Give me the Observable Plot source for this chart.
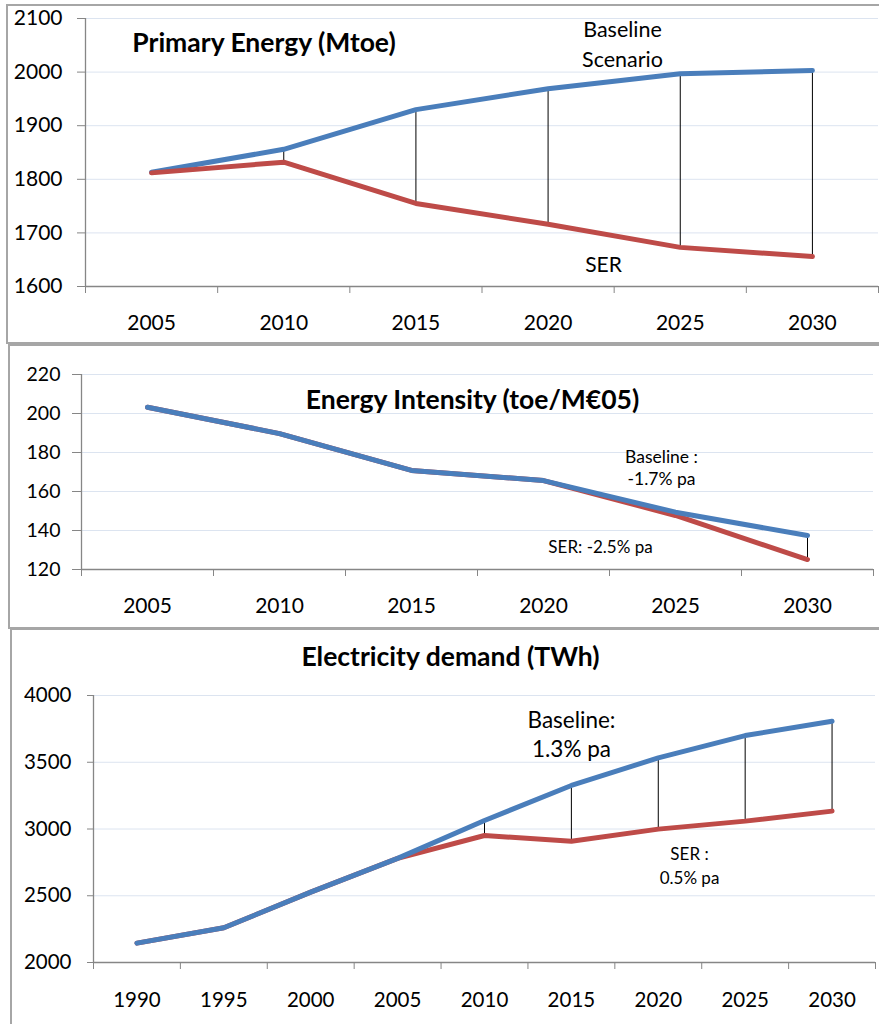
<!DOCTYPE html>
<html><head><meta charset="utf-8">
<script src="https://cdn.jsdelivr.net/npm/d3@7"></script>
<script src="https://cdn.jsdelivr.net/npm/@observablehq/plot@0.6"></script>
<style>
html,body{margin:0;padding:0;background:#fff;overflow:hidden;width:879px;height:1024px;}
.panel{position:absolute;left:0;width:879px;}
.box{position:absolute;border:2px solid #a6a6a6;border-right:none;box-sizing:border-box;width:900px;}
</style></head><body>
<div id="p1" class="panel" style="top:0px"></div>
<div id="p2" class="panel" style="top:344px"></div>
<div id="p3" class="panel" style="top:628px"></div>
<div class="box" style="left:6px;top:4px;height:340px;"></div>
<div class="box" style="left:8px;top:344px;height:285px;"></div>
<div class="box" style="left:10px;top:628px;height:420px;"></div>
<script>
const FONT = "Lato, 'Open Sans', sans-serif";
const BLUE = "#4a7ebb", RED = "#be4b48", AXIS = "#868686", GRID = "#dce4f0";

// Panel 1: Primary Energy (Mtoe)
const primaryYears = [2005, 2010, 2015, 2020, 2025, 2030];
const primaryBaseline = [1813, 1856, 1930, 1969, 1997, 2003];
const primarySER = [1812, 1832, 1755, 1716, 1673, 1656];
const primaryTicks = [1600, 1700, 1800, 1900, 2000, 2100];
const primaryBounds = [2002.5, 2007.5, 2012.5, 2017.5, 2022.5, 2027.5, 2032.5];

// Panel 2: Energy Intensity (toe/M€05)
const intensityYears = [2005, 2010, 2015, 2020, 2025, 2030];
const intensityBaseline = [203.2, 189.7, 170.8, 165.6, 149.4, 137.4];
const intensitySER = [203.2, 189.7, 170.8, 165.6, 147.7, 125.1];
const intensityTicks = [120, 140, 160, 180, 200, 220];
const intensityBounds = [2002.5, 2007.5, 2012.5, 2017.5, 2022.5, 2027.5, 2032.5];

// Panel 3: Electricity demand (TWh)
const elecYears = [1990, 1995, 2000, 2005, 2010, 2015, 2020, 2025, 2030];
const elecBaseline = [2145, 2260, 2527, 2780, 3064, 3326, 3533, 3700, 3807];
const elecSER = [2145, 2260, 2527, 2780, 2951, 2909, 2999, 3059, 3134];
const elecTicks = [2000, 2500, 3000, 3500, 4000];
const elecBounds = [1987.5, 1992.5, 1997.5, 2002.5, 2007.5, 2012.5, 2017.5, 2022.5, 2027.5, 2032.5];

function series(years, vals) { return years.map((year, i) => ({year, value: vals[i]})); }
function drops(years, a, b, from) {
  return years.map((year, i) => ({year, y1: a[i], y2: b[i], i})).filter(d => d.year >= from);
}
function label(text, dx, dy, o = {}) {
  return Plot.text([text], {text: d => d, frameAnchor: "top-left", dx, dy,
    textAnchor: "middle", lineAnchor: "middle", fill: "black", ...o});
}

function panel(cfg) {
  const base = series(cfg.years, cfg.base), ser = series(cfg.years, cfg.ser);
  const lines = [
    Plot.line(ser, {x: "year", y: "value", stroke: RED, strokeWidth: 5}),
    Plot.line(base, {x: "year", y: "value", stroke: BLUE, strokeWidth: 5})
  ];
  if (cfg.redOnTop) lines.reverse();
  const yMin = cfg.yTicks[0], yMax = cfg.yTicks[cfg.yTicks.length - 1];
  return Plot.plot({
    width: 879, height: cfg.height,
    marginLeft: cfg.mL, marginRight: cfg.mR, marginTop: cfg.mT, marginBottom: cfg.mB,
    x: {type: "linear", domain: [cfg.bounds[0], cfg.bounds[cfg.bounds.length - 1]]},
    y: {domain: [yMin, yMax]},
    style: {fontFamily: FONT, color: "black", overflow: "visible", background: "transparent"},
    marks: [
      Plot.ruleY(cfg.yTicks.slice(1), {stroke: GRID, strokeWidth: 1}),
      Plot.ruleY([yMin], {stroke: AXIS, strokeWidth: 1.3}),
      Plot.ruleX([cfg.bounds[0]], {stroke: AXIS, strokeWidth: 1.3}),
      Plot.axisY(cfg.yTicks, {tickSize: cfg.yTickSize, tickPadding: cfg.yPad, stroke: AXIS, fill: "black",
        fontSize: cfg.yFont, label: null, tickFormat: d => String(d)}),
      Plot.axisX(cfg.bounds, {tickSize: 7, stroke: AXIS, tickFormat: () => "", label: null}),
      Plot.axisX(cfg.years, {tickSize: 0, tickPadding: cfg.xPad, fill: "black", fontSize: cfg.xFont,
        label: null, tickFormat: d => String(d)}),
      Plot.ruleX(drops(cfg.years, cfg.base, cfg.ser, cfg.dropFrom), {x: "year", y1: "y1", y2: "y2", stroke: "black", strokeWidth: 1}),
      ...lines,
      ...cfg.labels
    ]
  });
}

document.getElementById("p1").append(panel({
  height: 343, mL: 85, mR: 1, mT: 18, mB: 57,
  years: primaryYears, base: primaryBaseline, ser: primarySER, yTicks: primaryTicks, bounds: primaryBounds,
  yTickSize: 8, yPad: 15, yFont: 21, xPad: 29, xFont: 21, dropFrom: 2010, redOnTop: true,
  labels: [
    label("Primary Energy (Mtoe)", 178.5, 25, {fontSize: 26.5, fontWeight: "bold"}),
    label("Baseline\nScenario", 537, 24, {fontSize: 21.5, lineHeight: 1.4}),
    label("SER", 518, 247, {fontSize: 21})
  ]
}));

document.getElementById("p2").append(panel({
  height: 284, mL: 81, mR: 6, mT: 30, mB: 59,
  years: intensityYears, base: intensityBaseline, ser: intensitySER, yTicks: intensityTicks, bounds: intensityBounds,
  yTickSize: 9, yPad: 12, yFont: 19.5, xPad: 29, xFont: 21, dropFrom: 2025, redOnTop: false,
  labels: [
    label("Energy Intensity (toe/M€05)", 391, 26, {fontSize: 26.5, fontWeight: "bold"}),
    label("Baseline :\n-1.7% pa", 580, 92, {fontSize: 17.5, lineHeight: 1.26}),
    label("SER: -2.5% pa", 519, 173, {fontSize: 17})
  ]
}));

document.getElementById("p3").append(panel({
  height: 396, mL: 93, mR: 4, mT: 67, mB: 62,
  years: elecYears, base: elecBaseline, ser: elecSER, yTicks: elecTicks, bounds: elecBounds,
  yTickSize: 6, yPad: 16, yFont: 20.5, xPad: 30, xFont: 20.5, dropFrom: 2010, redOnTop: false,
  labels: [
    label("Electricity demand (TWh)", 357, -38, {fontSize: 26.5, fontWeight: "bold"}),
    label("Baseline:\n1.3% pa", 478, 37.5, {fontSize: 22.5, lineHeight: 1.29}),
    label("SER :\n0.5% pa", 596, 169, {fontSize: 17, lineHeight: 1.41})
  ]
}));
</script>
</body></html>
